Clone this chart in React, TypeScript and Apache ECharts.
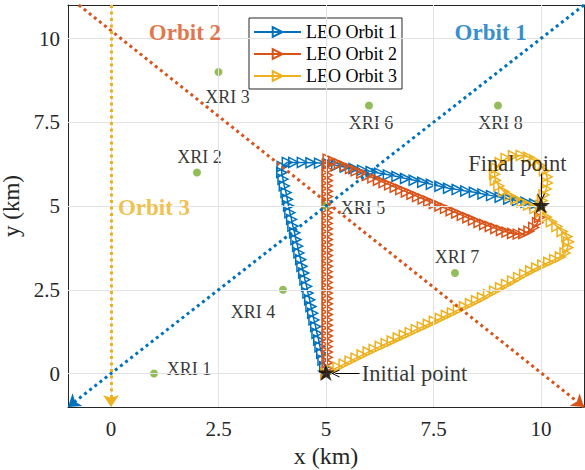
import React, { useEffect, useRef } from "react";
import * as echarts from "echarts";

// ---------- data ----------
const tickValues = [0, 2.5, 5, 7.5, 10];
const axisMin = -1;
const axisMax = 11;

const seriesNames = ["LEO Orbit 1", "LEO Orbit 2", "LEO Orbit 3"];

const orbit1Path: number[][] = [
  [5.0, 0.0], [4.97, 0.2], [4.93, 0.4], [4.9, 0.6], [4.86, 0.8], [4.83, 1.0], [4.79, 1.2], [4.76, 1.4],
  [4.72, 1.6], [4.69, 1.8], [4.65, 2.0], [4.62, 2.2], [4.58, 2.4], [4.55, 2.6], [4.51, 2.8], [4.48, 3.0],
  [4.44, 3.2], [4.41, 3.4], [4.37, 3.6], [4.34, 3.8], [4.3, 4.0], [4.27, 4.2], [4.23, 4.4], [4.2, 4.6],
  [4.16, 4.8], [4.13, 5.0], [4.1, 5.2], [4.07, 5.4], [4.03, 5.6], [4.0, 5.8], [3.97, 6.0], [3.98, 6.18],
  [4.1, 6.3], [4.25, 6.3], [4.45, 6.3], [4.65, 6.29], [4.85, 6.28], [5.05, 6.26], [5.25, 6.21], [5.45, 6.16],
  [5.65, 6.12], [5.85, 6.07], [6.05, 6.03], [6.25, 5.98], [6.45, 5.93], [6.65, 5.88], [6.85, 5.82], [7.05, 5.77],
  [7.25, 5.71], [7.45, 5.65], [7.65, 5.59], [7.85, 5.53], [8.05, 5.49], [8.25, 5.45], [8.45, 5.41], [8.65, 5.36],
  [8.85, 5.31], [9.05, 5.26], [9.25, 5.21], [9.45, 5.16], [9.65, 5.11], [9.85, 5.06], [10.0, 5.0],
];

const orbit2Path: number[][] = [
  [5.0, 0.0], [5.03, 0.16], [5.03, 0.32], [5.03, 0.48], [5.03, 0.64], [5.03, 0.8], [5.03, 0.96], [5.03, 1.12],
  [5.03, 1.28], [5.03, 1.44], [5.03, 1.6], [5.03, 1.76], [5.03, 1.92], [5.03, 2.08], [5.03, 2.24], [5.03, 2.4],
  [5.03, 2.56], [5.03, 2.72], [5.03, 2.88], [5.03, 3.04], [5.03, 3.2], [5.03, 3.36], [5.03, 3.52], [5.03, 3.68],
  [5.03, 3.84], [5.03, 4.0], [5.03, 4.16], [5.03, 4.32], [5.03, 4.48], [5.03, 4.64], [5.03, 4.8], [5.03, 4.96],
  [5.03, 5.12], [5.03, 5.28], [5.03, 5.44], [5.03, 5.6], [5.03, 5.76], [5.03, 5.92], [5.03, 6.08], [5.03, 6.24],
  [5.05, 6.4], [5.18, 6.33], [5.31, 6.26], [5.44, 6.19], [5.57, 6.12], [5.7, 6.05], [5.83, 5.98], [5.96, 5.91],
  [6.09, 5.84], [6.22, 5.77], [6.35, 5.7], [6.48, 5.63], [6.61, 5.56], [6.74, 5.49], [6.87, 5.42], [7.0, 5.35],
  [7.13, 5.28], [7.26, 5.21], [7.39, 5.14], [7.52, 5.07], [7.65, 5.0], [7.78, 4.93], [7.91, 4.86], [8.04, 4.79],
  [8.17, 4.72], [8.3, 4.65], [8.43, 4.58], [8.56, 4.51], [8.69, 4.45], [8.82, 4.39], [8.95, 4.33], [9.08, 4.27],
  [9.21, 4.22], [9.34, 4.18], [9.47, 4.16], [9.6, 4.18], [9.72, 4.25], [9.83, 4.36], [9.92, 4.5], [9.97, 4.66],
  [10.0, 4.83], [10.0, 5.0],
];

const orbit3Path: number[][] = [
  [5.0, 0.0], [5.14, 0.1], [5.28, 0.19], [5.42, 0.28], [5.56, 0.37], [5.7, 0.46], [5.84, 0.55], [5.98, 0.64],
  [6.12, 0.72], [6.26, 0.81], [6.4, 0.89], [6.54, 0.97], [6.68, 1.06], [6.82, 1.14], [6.96, 1.22], [7.1, 1.31],
  [7.24, 1.39], [7.38, 1.47], [7.52, 1.56], [7.66, 1.64], [7.8, 1.73], [7.94, 1.81], [8.08, 1.9], [8.22, 1.99],
  [8.36, 2.08], [8.5, 2.17], [8.64, 2.26], [8.78, 2.36], [8.92, 2.46], [9.06, 2.56], [9.2, 2.66], [9.34, 2.76],
  [9.48, 2.86], [9.62, 2.96], [9.76, 3.06], [9.9, 3.15], [10.04, 3.24], [10.18, 3.32], [10.32, 3.4], [10.45, 3.48],
  [10.56, 3.6], [10.62, 3.76], [10.64, 3.93], [10.6, 4.09], [10.49, 4.24], [10.37, 4.39], [10.24, 4.53], [10.12, 4.67],
  [10.0, 4.82], [9.86, 4.93], [9.71, 5.03], [9.56, 5.12], [9.41, 5.21], [9.27, 5.31], [9.13, 5.44], [9.02, 5.6],
  [8.94, 5.77], [8.92, 5.95], [8.96, 6.13], [9.05, 6.29], [9.19, 6.42], [9.36, 6.5], [9.54, 6.51], [9.71, 6.46],
  [9.86, 6.35], [9.98, 6.21], [10.08, 6.05], [10.14, 5.87], [10.15, 5.69], [10.12, 5.51], [10.07, 5.33], [10.03, 5.16],
  [10.0, 5.0],
];

const xriNames = ["XRI 1", "XRI 2", "XRI 3", "XRI 4", "XRI 5", "XRI 6", "XRI 7", "XRI 8"];
const xriX = [1, 2, 2.5, 4, 5, 6, 8, 9];
const xriY = [0, 6, 9, 2.5, 5, 8, 3, 8];

const trackNames = ["Orbit 1", "Orbit 2", "Orbit 3"];
const trackStart: number[][] = [[11, 11], [-0.75, 11], [0, 11]];
const trackEnd: number[][] = [[-1, -1], [11, -1], [0, -1]];
const trackLabelAt: number[][] = [[8.83, 10.19], [1.72, 10.17], [1.0, 4.95]];

const initialPoint = [5, 0];
const finalPoint = [10, 5];

// ---------- styles ----------
const COLORS = ["#0072BD", "#D95319", "#EDB120"];
const GREEN = "#77AC30";
const AXIS = "#262626";
const FONT = "Liberation Serif";
const STAR =
  "path://M50,0 L61.2,34.5 L97.6,34.5 L68.2,55.9 L79.4,90.5 L50,69.1 L20.6,90.5 L31.8,55.9 L2.4,34.5 L38.8,34.5 Z";
const CHEVRON = "path://M0,10 L5,0 L10,10 L8.8,10 L5,2.4 L1.2,10 Z";
const xriOffsets: number[][] = [
  [35, -5], [2.5, -15.5], [9, 25], [-30, 22], [37, 1.5], [2, 17.5], [2, -16], [2.5, 17.5],
];

function buildOption(): any {
  const paths = [orbit1Path, orbit2Path, orbit3Path];

  const trajSeries = paths.map((p, i) => ({
    name: seriesNames[i],
    type: "line",
    data: p,
    z: 2,
    showAllSymbol: true,
    symbol: "triangle",
    symbolRotate: -90,
    symbolSize: 10,
    lineStyle: { color: COLORS[i], width: 1.5 },
    itemStyle: { color: "rgba(255,255,255,0)", borderColor: COLORS[i], borderWidth: 1.5 },
    emphasis: { disabled: true },
    silent: true,
  }));

  const axisCommon = {
    type: "value",
    min: axisMin,
    max: axisMax,
    splitLine: { show: false },
    axisLine: { show: true, onZero: false, lineStyle: { color: AXIS, width: 1 } },
    axisTick: { show: true, inside: true, length: 5, customValues: tickValues, lineStyle: { color: AXIS } },
  };

  return {
    animation: false,
    backgroundColor: "#ffffff",
    textStyle: { fontFamily: FONT },
    grid: { left: 68, right: 1, top: 5, bottom: 63, containLabel: false, outerBoundsMode: "none" },
    xAxis: [
      {
        ...axisCommon,
        position: "bottom",
        name: "x (km)",
        nameLocation: "middle",
        nameGap: 37,
        nameTextStyle: { fontSize: 24, color: AXIS, fontFamily: FONT },
        axisLabel: { customValues: tickValues, fontSize: 21, color: AXIS, fontFamily: FONT, margin: 11 },
      },
      { ...axisCommon, position: "top", axisLabel: { show: false } },
    ],
    yAxis: [
      {
        ...axisCommon,
        position: "left",
        name: "y (km)",
        nameLocation: "middle",
        nameGap: 34,
        nameTextStyle: { fontSize: 23, color: AXIS, fontFamily: FONT },
        axisLabel: { customValues: tickValues, fontSize: 21, color: AXIS, fontFamily: FONT, margin: 8 },
      },
      { ...axisCommon, position: "right", axisLabel: { show: false } },
    ],
    legend: {
      data: seriesNames,
      orient: "vertical",
      left: 249,
      top: 18,
      itemWidth: 47,
      itemHeight: 12,
      itemGap: 4,
      padding: [5, 5, 4, 4],
      backgroundColor: "#ffffff",
      borderColor: AXIS,
      borderWidth: 1,
      borderRadius: 0,
      selectedMode: false,
      textStyle: { fontSize: 18, color: "#000", fontFamily: FONT, lineHeight: 18 },
    },
    series: [
      // grid lines
      {
        type: "line",
        data: [],
        z: 0,
        silent: true,
        markLine: {
          silent: true,
          symbol: ["none", "none"],
          label: { show: false },
          lineStyle: { color: "#e3e3e3", width: 1, type: "solid" },
          emphasis: { disabled: true },
          data: [
            ...tickValues.map((v) => ({ xAxis: v })),
            ...tickValues.map((v) => ({ yAxis: v })),
          ],
        },
      },
      ...trajSeries,
      // dotted orbit tracks
      {
        type: "line",
        data: [],
        z: 3,
        silent: true,
        markLine: {
          silent: true,
          symbol: ["none", "arrow"],
          symbolSize: 12,
          label: { show: false },
          emphasis: { disabled: true },
          data: trackStart.map((s, i) => [
            { coord: s, lineStyle: { color: COLORS[i], width: 3, type: [3, 3.5] }, itemStyle: { color: COLORS[i] } },
            { coord: trackEnd[i] },
          ]),
        },
      },
      // orbit track labels
      {
        type: "scatter",
        z: 6,
        silent: true,
        symbolSize: 1,
        itemStyle: { color: "rgba(0,0,0,0)" },
        data: trackNames.map((n, i) => ({
          name: n,
          value: trackLabelAt[i],
          label: {
            show: true,
            position: "inside",
            formatter: "{b}",
            color: COLORS[i],
            fontSize: 23,
            fontWeight: "bold",
            fontFamily: FONT,
          },
        })),
      },
      // XRI points
      {
        type: "scatter",
        z: 4,
        silent: true,
        symbol: "circle",
        symbolSize: 8,
        itemStyle: { color: GREEN },
        data: xriNames.map((n, i) => ({
          name: n,
          value: [xriX[i], xriY[i]],
          label: {
            show: true,
            position: "inside",
            offset: xriOffsets[i],
            formatter: "{b}",
            color: "#000",
            fontSize: 18,
            fontFamily: FONT,
          },
        })),
      },
      // start / end stars
      {
        type: "scatter",
        z: 5,
        silent: true,
        symbol: STAR,
        symbolSize: [18, 17],
        symbolOffset: [0, -1],
        itemStyle: { color: "#000" },
        data: [initialPoint, finalPoint],
      },
      // annotation arrows
      {
        type: "line",
        data: [],
        z: 6,
        silent: true,
        markLine: {
          silent: true,
          symbol: ["none", CHEVRON],
          symbolSize: 8,
          label: { show: false },
          emphasis: { disabled: true },
          lineStyle: { color: "#000", width: 1, type: "solid" },
          data: [
            [{ coord: [10, 5.97] }, { coord: [10, 5.25] }],
            [{ coord: [5.78, 0] }, { coord: [5.22, 0] }],
          ],
        },
      },
      // annotation texts
      {
        type: "scatter",
        z: 6,
        silent: true,
        symbolSize: 1,
        itemStyle: { color: "rgba(0,0,0,0)" },
        data: [
          {
            name: "Final point",
            value: [9.45, 6.27],
            label: { show: true, position: "inside", formatter: "{b}", color: "#000", fontSize: 22.5, fontFamily: FONT },
          },
          {
            name: "Initial point",
            value: [5.83, 0],
            label: {
              show: true,
              position: "inside",
              align: "left",
              formatter: "{b}",
              color: "#000",
              fontSize: 22.5,
              fontFamily: FONT,
            },
          },
        ],
      },
    ],
  };
}

export default function App() {
  const ref = useRef<HTMLDivElement>(null);
  useEffect(() => {
    if (!ref.current) return;
    const chart = echarts.init(ref.current, undefined, { renderer: "svg" });
    chart.setOption(buildOption());
    return () => chart.dispose();
  }, []);
  return (
    <div
      ref={ref}
      style={{ position: "absolute", left: 0, top: 0, width: 585, height: 470, background: "#fff" }}
    />
  );
}
